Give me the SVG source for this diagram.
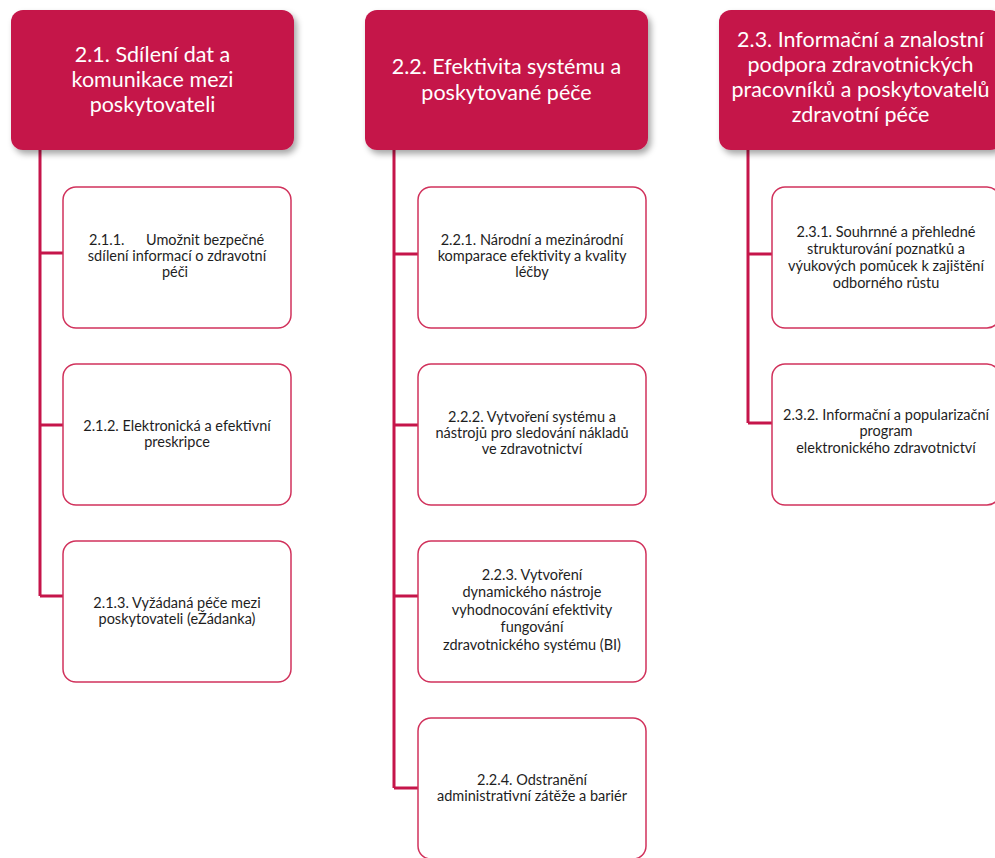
<svg xmlns="http://www.w3.org/2000/svg" width="995" height="858" viewBox="0 0 995 858">
<style>
.hdr{fill:#C5154A;filter:url(#sh);}
.ht{font-family:Lato,"Liberation Sans",sans-serif;font-size:21.5px;fill:#ffffff;text-anchor:middle;}
.box{fill:#ffffff;stroke:#D1325C;stroke-width:1.5;}
.bt{font-family:Lato,"Liberation Sans",sans-serif;font-size:14.5px;fill:#1e1e1e;text-anchor:middle;}
.con{fill:none;stroke:#C5154A;stroke-width:3;}
</style>
<defs>
<filter id="sh" x="-10%" y="-10%" width="125%" height="130%">
<feDropShadow dx="3" dy="4" stdDeviation="3" flood-color="#000" flood-opacity="0.35"/>
</filter>
</defs>
<rect width="995" height="858" fill="#ffffff"/>
<g id="connectors">
<path class="con" d="M40 150V596M40 253H63M40 425H63M40 596H63"/>
<path class="con" d="M394 150V788M394 254H418M394 425H418M394 596H418M394 788H418"/>
<path class="con" d="M748 150V423M748 254H772M748 423H772"/>
</g>
<g id="n2_1">
<rect class="hdr" x="11" y="10" width="283" height="140" rx="12"/>
<text class="ht"><tspan x="152.5" y="62">2.1. Sdílení dat a</tspan><tspan x="152.5" y="87">komunikace mezi</tspan><tspan x="152.5" y="112">poskytovateli</tspan></text>
</g>
<g id="n2_2">
<rect class="hdr" x="365" y="10" width="283" height="140" rx="12"/>
<text class="ht"><tspan x="506.5" y="74">2.2. Efektivita systému a</tspan><tspan x="506.5" y="100">poskytované péče</tspan></text>
</g>
<g id="n2_3">
<rect class="hdr" x="719" y="10" width="283" height="140" rx="12"/>
<text class="ht"><tspan x="860.5" y="47">2.3. Informační a znalostní</tspan><tspan x="860.5" y="72">podpora zdravotnických</tspan><tspan x="860.5" y="97">pracovníků a poskytovatelů</tspan><tspan x="860.5" y="122">zdravotní péče</tspan></text>
</g>
<g id="n2_1_1">
<rect class="box" x="63" y="187" width="228" height="141" rx="13"/>
<text class="bt"><tspan x="89" y="245" text-anchor="start">2.1.1.</tspan><tspan x="146" y="245" text-anchor="start">Umožnit bezpečné</tspan><tspan x="177" y="261">sdílení informací o zdravotní</tspan><tspan x="175" y="277">péči</tspan></text>
</g>
<g id="n2_1_2">
<rect class="box" x="63" y="364" width="228" height="141" rx="13"/>
<text class="bt"><tspan x="177" y="431">2.1.2. Elektronická a efektivní</tspan><tspan x="177" y="447">preskripce</tspan></text>
</g>
<g id="n2_1_3">
<rect class="box" x="63" y="541" width="228" height="141" rx="13"/>
<text class="bt"><tspan x="177" y="608">2.1.3. Vyžádaná péče mezi</tspan><tspan x="177" y="624">poskytovateli (eŽádanka)</tspan></text>
</g>
<g id="n2_2_1">
<rect class="box" x="418" y="187" width="228" height="141" rx="13"/>
<text class="bt"><tspan x="532" y="245">2.2.1. Národní a mezinárodní</tspan><tspan x="532" y="261">komparace efektivity a kvality</tspan><tspan x="532" y="277">léčby</tspan></text>
</g>
<g id="n2_2_2">
<rect class="box" x="418" y="364" width="228" height="141" rx="13"/>
<text class="bt"><tspan x="532" y="422">2.2.2. Vytvoření systému a</tspan><tspan x="532" y="438">nástrojů pro sledování nákladů</tspan><tspan x="532" y="454">ve zdravotnictví</tspan></text>
</g>
<g id="n2_2_3">
<rect class="box" x="418" y="541" width="228" height="141" rx="13"/>
<text class="bt"><tspan x="532" y="580">2.2.3. Vytvoření</tspan><tspan x="532" y="597">dynamického nástroje</tspan><tspan x="532" y="614.5">vyhodnocování efektivity</tspan><tspan x="532" y="632">fungování</tspan><tspan x="532" y="650">zdravotnického systému (BI)</tspan></text>
</g>
<g id="n2_2_4">
<rect class="box" x="418" y="718" width="228" height="141" rx="13"/>
<text class="bt"><tspan x="532" y="785">2.2.4. Odstranění</tspan><tspan x="532" y="801">administrativní zátěže a bariér</tspan></text>
</g>
<g id="n2_3_1">
<rect class="box" x="772" y="187" width="228" height="141" rx="13"/>
<text class="bt"><tspan x="886" y="237">2.3.1. Souhrnné a přehledné</tspan><tspan x="886" y="254">strukturování poznatků a</tspan><tspan x="886" y="271">výukových pomůcek k zajištění</tspan><tspan x="886" y="288">odborného růstu</tspan></text>
</g>
<g id="n2_3_2">
<rect class="box" x="772" y="364" width="228" height="141" rx="13"/>
<text class="bt"><tspan x="886" y="420">2.3.2. Informační a popularizační</tspan><tspan x="886" y="436">program</tspan><tspan x="886" y="453">elektronického zdravotnictví</tspan></text>
</g>
</svg>
